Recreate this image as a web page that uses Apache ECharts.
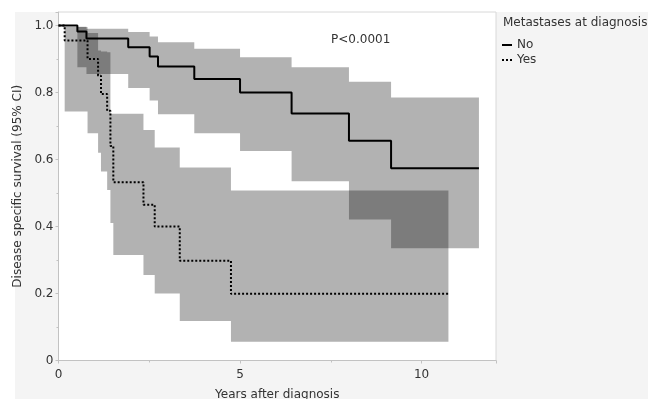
<!DOCTYPE html>
<html>
<head>
<meta charset="utf-8">
<script src="https://cdn.jsdelivr.net/npm/echarts@6/dist/echarts.min.js"></script>
<style>
  html, body { margin: 0; padding: 0; background: #fff; }
  #chart { width: 665px; height: 399px; }
</style>
</head>
<body>
<div id="chart"></div>
<script>
// Kaplan-Meier estimates (years, survival, 95% CI)
const noTime = [0, 0.52, 0.77, 1.92, 2.51, 2.74, 3.74, 5.0, 6.42, 8.0, 9.16, 11.58]
const noSurv = [1, 0.982, 0.961, 0.935, 0.907, 0.877, 0.84, 0.80, 0.737, 0.656, 0.574, 0.574]
const noLower = [1, 0.875, 0.855, 0.813, 0.776, 0.735, 0.678, 0.625, 0.535, 0.421, 0.335, 0.335]
const noUpper = [1, 0.996, 0.99, 0.98, 0.967, 0.95, 0.93, 0.905, 0.875, 0.832, 0.785, 0.785]

const yesTime = [0, 0.17, 0.80, 1.09, 1.17, 1.34, 1.43, 1.51, 2.34, 2.65, 3.34, 4.75, 10.74]
const yesSurv = [1, 0.955, 0.90, 0.85, 0.795, 0.745, 0.64, 0.532, 0.465, 0.40, 0.298, 0.199, 0.199]
const yesLower = [1, 0.743, 0.678, 0.62, 0.564, 0.509, 0.41, 0.315, 0.255, 0.20, 0.118, 0.056, 0.056]
const yesUpper = [1, 0.995, 0.977, 0.925, 0.922, 0.92, 0.736, 0.736, 0.688, 0.636, 0.576, 0.507, 0.507]

const xTicks = [0, 5, 10]
const yTicks = [0, 0.2, 0.4, 0.6, 0.8, 1.0]

const FONT = 'DejaVu Sans'
const TEXT = '#333333'
const AXIS = '#c2c2c2'

const chart = echarts.init(document.getElementById('chart'))

// one polygon per CI band, stepped like the curve
const bandSeries = (name, time, lower, upper) => ({
  type: 'custom',
  name,
  silent: true,
  z: 1,
  data: [[0, 0]],
  renderItem: (params, api) => {
    const pts = []
    for (let i = 0; i < time.length - 1; i++) {
      pts.push(api.coord([time[i], upper[i]]))
      pts.push(api.coord([time[i + 1], upper[i]]))
    }
    for (let i = time.length - 2; i >= 0; i--) {
      pts.push(api.coord([time[i + 1], lower[i]]))
      pts.push(api.coord([time[i], lower[i]]))
    }
    return {
      type: 'polygon',
      shape: { points: pts },
      style: { fill: 'rgba(0,0,0,0.3)' },
    }
  },
})

const zip = (a, b) => a.map((v, i) => [v, b[i]])

const option = {
  animation: false,
  graphic: [
    {
      type: 'rect',
      z: -100,
      shape: { x: 15, y: 12, width: 633, height: 387 },
      style: { fill: '#f4f4f4' },
    },
    {
      type: 'text',
      x: 331,
      y: 40,
      style: { text: 'P<0.0001', font: `12px "${FONT}"`, fill: TEXT, verticalAlign: 'middle' },
    },
    {
      type: 'text',
      x: 503,
      y: 23,
      style: { text: 'Metastases at diagnosis', font: `12px "${FONT}"`, fill: TEXT, verticalAlign: 'middle' },
    },
  ],
  legend: {
    orient: 'vertical',
    left: 502,
    top: 39,
    padding: 0,
    itemWidth: 10,
    itemHeight: 2,
    itemGap: 3,
    selectedMode: false,
    data: [
      { name: 'No', icon: 'rect' },
      { name: 'Yes', icon: 'path://M0,0h2v2h-2zM4,0h2v2h-2zM8,0h2v2h-2z' },
    ],
    textStyle: { fontSize: 12, color: TEXT, fontFamily: FONT },
  },
  grid: {
    left: 58.5,
    right: 169,
    top: 12,
    bottom: 38.5,
    outerBoundsMode: 'none',
    containLabel: false,
    show: true,
    backgroundColor: '#ffffff',
    borderColor: '#d8d8d8',
    borderWidth: 1,
  },
  xAxis: {
    type: 'value',
    min: 0,
    max: 12.05,
    interval: 5,
    name: 'Years after diagnosis',
    nameLocation: 'middle',
    nameGap: 28,
    nameTextStyle: { fontSize: 12, color: TEXT, fontFamily: FONT },
    axisLine: { lineStyle: { color: AXIS } },
    axisTick: { length: 3, lineStyle: { color: AXIS } },
    minorTick: { show: true, splitNumber: 2, length: 2, lineStyle: { color: AXIS } },
    splitLine: { show: false },
    axisLabel: {
      margin: 8,
      fontSize: 12,
      color: TEXT,
      fontFamily: FONT,
      showMaxLabel: false,
      formatter: (v) => (xTicks.includes(v) ? String(v) : ''),
    },
  },
  yAxis: {
    type: 'value',
    min: 0,
    max: 1.04,
    interval: 0.2,
    name: 'Disease specific survival (95% CI)',
    nameLocation: 'middle',
    nameGap: 23,
    nameTextStyle: { fontSize: 12, color: TEXT, fontFamily: FONT },
    axisLine: { show: true, lineStyle: { color: AXIS } },
    axisTick: { show: true, length: 3, lineStyle: { color: AXIS } },
    minorTick: { show: true, splitNumber: 2, length: 2, lineStyle: { color: AXIS } },
    splitLine: { show: false },
    axisLabel: {
      margin: 5,
      fontSize: 12,
      color: TEXT,
      fontFamily: FONT,
      showMaxLabel: false,
      formatter: (v) => {
        const t = yTicks.find((y) => Math.abs(y - v) < 1e-6)
        if (t === undefined) return ''
        return t === 0 ? '0' : t.toFixed(1)
      },
    },
  },
  series: [
    bandSeries('noBand', noTime, noLower, noUpper),
    bandSeries('yesBand', yesTime, yesLower, yesUpper),
    {
      name: 'No',
      type: 'line',
      step: 'end',
      z: 3,
      symbol: 'none',
      data: zip(noTime, noSurv),
      lineStyle: { color: '#000', width: 2 },
      itemStyle: { color: '#000' },
    },
    {
      name: 'Yes',
      type: 'line',
      step: 'end',
      z: 3,
      symbol: 'none',
      data: zip(yesTime, yesSurv),
      lineStyle: { color: '#000', width: 2, type: [2, 2] },
      itemStyle: { color: '#000' },
    },
  ],
}

chart.setOption(option)
</script>
</body>
</html>
